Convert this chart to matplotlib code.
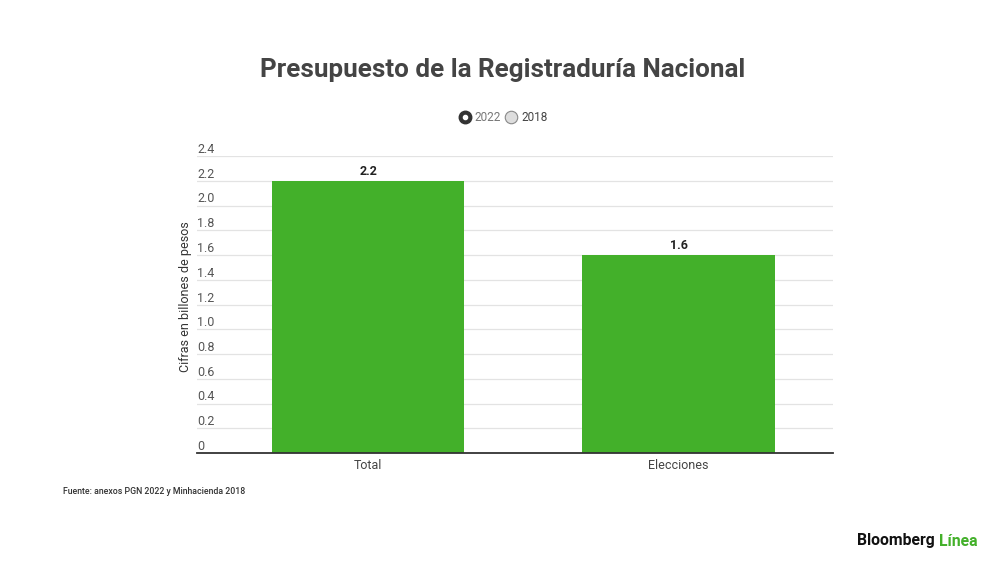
import matplotlib
matplotlib.use("Agg")
import matplotlib.pyplot as plt
from matplotlib.lines import Line2D

categories = ["Total", "Elecciones"]
values_2022 = [2.2, 1.6]
value_labels = ["2.2", "1.6"]
yticks = [0, 0.2, 0.4, 0.6, 0.8, 1.0, 1.2, 1.4, 1.6, 1.8, 2.0, 2.2, 2.4]
ytick_labels = ["0", "0.2", "0.4", "0.6", "0.8", "1.0", "1.2", "1.4", "1.6", "1.8", "2.0", "2.2", "2.4"]

plt.rcParams['font.family'] = ['Roboto', 'DejaVu Sans']

W, H = 1000, 562
fig = plt.figure(figsize=(10, 5.62), dpi=100)
fig.patch.set_facecolor("white")

# axes: x 197..833, y 156..453 (pixel from top)
ax = fig.add_axes([197 / W, 1 - 453 / H, (833 - 197) / W, (453 - 156) / H])
green = "#43b02a"
x = list(range(len(categories)))
ax.bar(x, values_2022, width=0.62, color=green, zorder=3)
ax.set_xlim(-0.5516, 1.498)
ax.set_ylim(0, 2.4)

for s in ["top", "right", "left"]:
    ax.spines[s].set_visible(False)
ax.spines["bottom"].set_color("#333333")
ax.spines["bottom"].set_linewidth(1.3)
ax.spines["bottom"].set_zorder(4)

ax.set_yticks(yticks)
ax.set_yticklabels([])
ax.tick_params(axis="y", length=0)
ax.grid(axis="y", color="#e3e3e3", linewidth=0.9, zorder=0)
ax.set_axisbelow(True)

ytr = ax.get_yaxis_transform()
for v, lab in zip(yticks, ytick_labels):
    ax.text(0.0, v, lab, transform=ytr, ha="left", va="bottom",
            fontsize=9, color="#555555")

ax.set_xticks(x)
ax.set_xticklabels(categories, fontsize=9, color="#444444")
ax.tick_params(axis="x", length=0, pad=4)

for xi, v, lab in zip(x, values_2022, value_labels):
    ax.annotate(lab, (xi, v), xytext=(0, 2), textcoords="offset points",
                ha="center", va="bottom", fontsize=9, fontweight="bold",
                color="#222222")

fig.text(186 / W, 1 - 297 / H, "Cifras en billones de pesos", rotation=90,
         ha="center", va="center", fontsize=9, color="#333333")

fig.text(503 / W, 1 - 70 / H, "Presupuesto de la Registraduría Nacional",
         ha="center", va="center", fontsize=18.7, fontweight="bold",
         color="#444444")

# legend (radio style)
fig.add_artist(Line2D([465 / W], [1 - 117 / H], marker="o", markersize=9,
                      markerfacecolor="#333333", markeredgecolor="#333333",
                      transform=fig.transFigure))
fig.add_artist(Line2D([465 / W], [1 - 117 / H], marker="o", markersize=3,
                      markerfacecolor="white", markeredgecolor="white",
                      transform=fig.transFigure))
fig.text(474 / W, 1 - 117 / H, "2022", ha="left", va="center",
         fontsize=8.5, color="#777777")
fig.add_artist(Line2D([511 / W], [1 - 117 / H], marker="o", markersize=9,
                      markerfacecolor="#dddddd", markeredgecolor="#888888",
                      markeredgewidth=0.8, transform=fig.transFigure))
fig.text(521 / W, 1 - 117 / H, "2018", ha="left", va="center",
         fontsize=8.5, color="#444444")

fig.text(63 / W, 1 - 492 / H, "Fuente: anexos PGN 2022 y Minhacienda 2018",
         ha="left", va="center", fontsize=6.3, fontweight="medium",
         color="#333333")

t1 = fig.text(857 / W, 1 - 541 / H, "Bloomberg", ha="left", va="center",
              fontsize=11.3, fontweight="bold", color="#111111")
fig.canvas.draw()
bb = t1.get_window_extent()
fig.text((bb.x1 + 4) / W, 1 - 541 / H, "Línea", ha="left", va="center",
         fontsize=11.3, fontweight="bold", color=green)

fig.savefig("out.png", dpi=100, facecolor="white")
